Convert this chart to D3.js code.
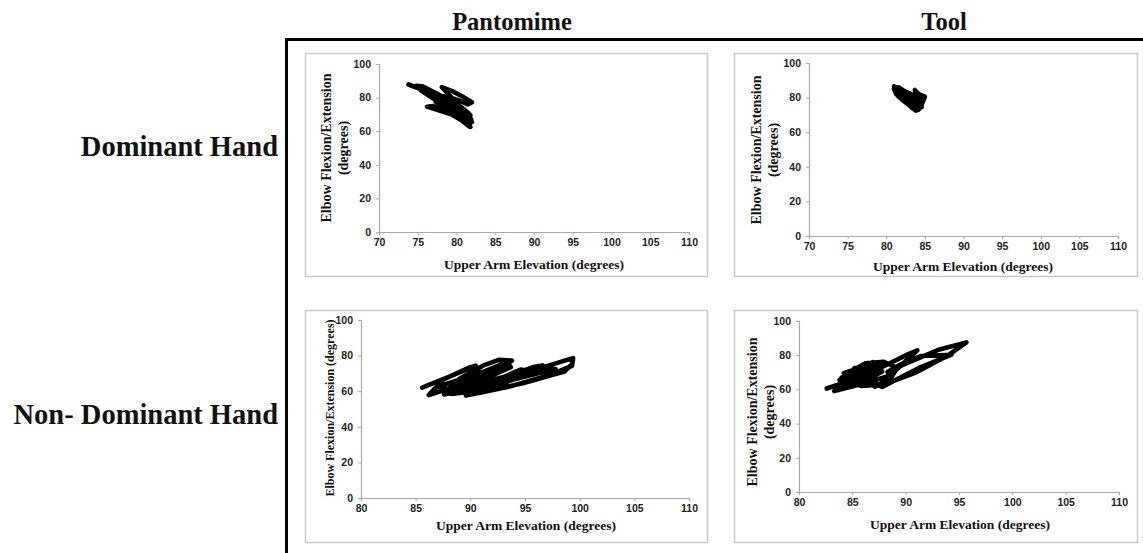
<!DOCTYPE html>
<html>
<head>
<meta charset="utf-8">
<script src="https://cdn.jsdelivr.net/npm/d3@7"></script>
<style>
  html, body { margin: 0; padding: 0; background: #fff; }
  svg { display: block; }
  .serif { font-family: "Liberation Serif", "Times New Roman", serif; font-weight: bold; fill: #111; }
  .tick text { font-family: "Liberation Sans", Arial, sans-serif; font-weight: bold; font-size: 10.5px; fill: #222; }
</style>
</head>
<body>
<svg id="chart" width="1143" height="553"></svg>
<script>
// Column and row headings
const columns = ["Pantomime", "Tool"];
const rows = ["Dominant Hand", "Non- Dominant Hand"];

// Axis settings
const xDomainDominant = [70, 110];
const xDomainNonDominant = [80, 110];
const yDomain = [0, 100];
const xTicksDominant = [70, 75, 80, 85, 90, 95, 100, 105, 110];
const xTicksNonDominant = [80, 85, 90, 95, 100, 105, 110];
const yTicks = [0, 20, 40, 60, 80, 100];
const xTitle = "Upper Arm Elevation (degrees)";
const yTitleLines = ["Elbow Flexion/Extension", "(degrees)"];

// Angle-angle traces: [upper arm elevation, elbow flexion/extension]
const pantomimeDominant = [
  [73.8, 87.8], [76.0, 84.0], [78.5, 79.0], [80.5, 74.0], [81.8, 68.0], [81.6, 63.0],
  [80.8, 66.0], [79.0, 71.0], [77.0, 75.0], [76.2, 74.6], [78.0, 72.0], [80.0, 69.0],
  [81.5, 65.0], [81.8, 62.5], [81.2, 66.0], [79.5, 72.0], [77.5, 78.0], [75.5, 84.0],
  [74.8, 87.0], [75.6, 86.8], [77.2, 83.0], [79.3, 78.0], [81.0, 73.0], [81.9, 67.0],
  [81.3, 69.0], [79.8, 74.0], [78.6, 77.5], [79.6, 76.5], [80.8, 72.5], [81.6, 70.5],
  [80.4, 75.0], [78.1, 86.2], [79.6, 83.5], [81.0, 80.0], [82.0, 77.2], [81.5, 76.0],
  [80.2, 78.5], [78.6, 81.0], [77.6, 80.0], [79.5, 75.0], [81.2, 70.0], [82.0, 65.5],
  [81.4, 64.0], [79.0, 76.0], [80.8, 71.0], [81.7, 66.5], [80.5, 68.5], [78.8, 73.5],
  [77.3, 77.5], [78.5, 74.5], [80.3, 70.5], [81.5, 67.5], [80.0, 72.5], [78.0, 79.5],
  [79.2, 78.5], [80.6, 74.5], [81.8, 69.5], [80.2, 71.5], [78.4, 75.8], [79.4, 74.0],
  [80.9, 69.2], [79.7, 70.2], [78.2, 77.2], [79.1, 80.2]
];
const toolDominant = [
  [81.0, 86.5], [82.0, 84.0], [83.2, 80.0], [84.0, 76.0], [84.2, 73.0], [83.8, 72.5],
  [83.0, 75.5], [82.0, 79.0], [81.3, 82.0], [81.0, 85.0], [81.6, 86.0], [82.6, 83.0],
  [83.6, 79.0], [84.3, 75.5], [84.5, 77.0], [84.0, 80.0], [83.0, 82.5], [82.0, 84.5],
  [81.4, 83.0], [82.2, 80.0], [83.3, 77.0], [84.1, 74.0], [84.6, 76.0], [85.0, 80.5],
  [84.2, 82.0], [83.7, 84.4], [83.9, 81.0], [84.4, 78.0], [83.5, 76.0], [82.5, 78.0],
  [81.6, 80.5], [81.2, 84.0], [82.4, 82.2], [83.4, 79.5], [84.3, 76.6], [84.6, 74.5],
  [81.5, 85.5], [82.8, 81.5], [83.8, 77.5], [84.2, 74.5], [83.4, 73.8], [82.6, 77.0],
  [81.8, 80.0], [82.3, 83.6], [83.2, 81.8], [84.0, 78.8], [84.7, 78.3], [83.9, 82.8]
];
const pantomimeNonDominant = [
  [85.6, 62.0], [88.2, 68.5], [90.5, 74.3], [89.8, 73.0], [87.5, 66.5], [86.2, 57.8],
  [89.0, 63.5], [92.3, 70.5], [93.8, 77.2], [92.6, 77.6], [91.2, 74.5], [89.0, 67.0],
  [87.6, 58.2], [91.5, 63.5], [95.5, 69.5], [96.6, 74.5], [95.8, 73.6], [93.0, 67.5],
  [89.6, 57.6], [93.5, 62.5], [97.0, 68.5], [99.3, 74.2], [99.4, 78.6], [97.2, 74.5],
  [94.6, 69.5], [91.3, 60.8], [88.3, 58.5], [90.7, 65.2], [93.7, 73.5], [93.3, 76.2],
  [90.6, 69.5], [87.0, 62.5], [88.4, 60.6], [91.8, 66.0], [95.2, 71.5], [94.6, 72.2],
  [91.8, 64.5], [89.9, 59.6], [92.6, 64.8], [96.4, 73.8], [95.0, 70.6], [92.0, 62.8],
  [88.8, 62.0], [92.5, 71.5], [91.0, 70.8], [88.0, 61.5], [90.6, 61.3], [94.2, 67.0],
  [97.8, 72.5], [96.8, 73.3], [93.6, 65.8], [90.8, 59.0], [94.8, 64.5], [98.6, 71.0],
  [99.2, 74.6]
];
const toolNonDominant = [
  [82.6, 60.5], [85.0, 65.5], [87.5, 72.0], [88.2, 75.0], [86.5, 70.0], [84.3, 64.0],
  [83.3, 59.0], [85.8, 63.0], [88.5, 68.0], [91.1, 82.8], [90.2, 80.5], [87.6, 72.5],
  [85.0, 66.8], [84.2, 69.5], [86.6, 74.5], [87.8, 73.4], [85.8, 62.0], [88.0, 63.0],
  [91.0, 70.0], [94.0, 80.0], [95.7, 87.5], [93.0, 83.0], [90.0, 75.0], [88.3, 70.2],
  [89.6, 74.8], [91.4, 79.5], [94.3, 80.3], [91.2, 72.4], [87.8, 61.5], [86.3, 66.0],
  [84.8, 68.5], [84.0, 67.0], [86.3, 71.0], [87.2, 75.4], [85.4, 70.0], [83.6, 61.8],
  [85.5, 62.4], [87.0, 67.8], [86.0, 72.8], [84.6, 66.5], [86.8, 69.5], [85.2, 72.5],
  [84.5, 63.5], [86.7, 68.8], [87.8, 70.5], [86.2, 65.0], [84.4, 62.8], [85.8, 67.0],
  [87.4, 71.8], [86.4, 73.5], [84.7, 69.8], [83.8, 65.5], [85.6, 64.3], [87.2, 64.8],
  [86.5, 62.2], [85.3, 68.4], [86.9, 76.0], [87.6, 74.2], [85.9, 69.2], [84.2, 67.8],
  [85.1, 71.4], [86.2, 75.2], [87.9, 76.2], [89.2, 72.6], [88.6, 66.4], [87.1, 61.6]
];

// Panel layout (pixel boxes and plot areas)
const panels = [
  { data: pantomimeDominant, xDomain: xDomainDominant, xTicks: xTicksDominant,
    box: [305, 53, 707, 276], plot: [379, 689, 232, 64],
    xTitlePos: [534, 269], yTitlePos: [327, 148], yTitleOneLine: false },
  { data: toolDominant, xDomain: xDomainDominant, xTicks: xTicksDominant,
    box: [734, 53, 1137, 276], plot: [809, 1118, 236, 63],
    xTitlePos: [963, 271], yTitlePos: [757, 150], yTitleOneLine: false },
  { data: pantomimeNonDominant, xDomain: xDomainNonDominant, xTicks: xTicksNonDominant,
    box: [305, 310, 707, 542], plot: [361, 689, 498, 320],
    xTitlePos: [526, 530], yTitlePos: [330, 408], yTitleOneLine: true },
  { data: toolNonDominant, xDomain: xDomainNonDominant, xTicks: xTicksNonDominant,
    box: [734, 310, 1137, 542], plot: [799, 1119, 492, 321],
    xTitlePos: [960, 529], yTitlePos: [753, 412], yTitleOneLine: false }
];

const svg = d3.select("#chart");

// Outer frame (left and top edges)
svg.append("path")
  .attr("d", "M286.5,553 L286.5,39.5 L1143,39.5")
  .attr("fill", "none").attr("stroke", "#000").attr("stroke-width", 3);

// Column headings
const colX = [512, 944];
svg.selectAll("text.col").data(columns).join("text")
  .attr("class", "serif col")
  .attr("x", (d, i) => colX[i]).attr("y", 30)
  .attr("text-anchor", "middle")
  .style("font-size", "24.5px")
  .text(d => d);

// Row headings
const rowY = [156, 424];
svg.selectAll("text.row").data(rows).join("text")
  .attr("class", "serif row")
  .attr("x", 278).attr("y", (d, i) => rowY[i])
  .attr("text-anchor", "end")
  .style("font-size", "28.5px")
  .text(d => d);

panels.forEach(p => {
  const [bx0, by0, bx1, by1] = p.box;
  svg.append("rect")
    .attr("x", bx0 + 0.5).attr("y", by0 + 0.5)
    .attr("width", bx1 - bx0).attr("height", by1 - by0)
    .attr("fill", "#fff").attr("stroke", "#c9c9c9").attr("stroke-width", 1.5);

  const [px0, px1, py0, py1] = p.plot;
  const x = d3.scaleLinear().domain(p.xDomain).range([px0, px1]);
  const y = d3.scaleLinear().domain(yDomain).range([py0, py1]);

  const gx = svg.append("g").attr("transform", `translate(0,${py0})`)
    .call(d3.axisBottom(x).tickValues(p.xTicks).tickSize(3).tickPadding(4).tickFormat(d3.format("d")));
  const gy = svg.append("g").attr("transform", `translate(${px0},0)`)
    .call(d3.axisLeft(y).tickValues(yTicks).tickSize(3).tickPadding(5).tickFormat(d3.format("d")));
  [gx, gy].forEach(g => {
    g.select(".domain").attr("stroke", "#a8a8a8").attr("stroke-width", 1.2);
    g.selectAll(".tick line").attr("stroke", "#a8a8a8");
  });

  // Trace
  const line = d3.line().x(d => x(d[0])).y(d => y(d[1]));
  svg.append("path")
    .datum(p.data)
    .attr("d", line)
    .attr("fill", "none")
    .attr("stroke", "#000")
    .attr("stroke-width", 4.6)
    .attr("stroke-linejoin", "round")
    .attr("stroke-linecap", "round");

  // Axis titles
  svg.append("text").attr("class", "serif")
    .attr("x", p.xTitlePos[0]).attr("y", p.xTitlePos[1])
    .attr("text-anchor", "middle")
    .style("font-size", "13.5px")
    .text(xTitle);

  const yt = svg.append("text").attr("class", "serif")
    .attr("transform", `translate(${p.yTitlePos[0]},${p.yTitlePos[1]}) rotate(-90)`)
    .attr("text-anchor", "middle");
  if (p.yTitleOneLine) {
    yt.style("font-size", "12px").attr("y", 4).text(yTitleLines.join(" "));
  } else {
    yt.style("font-size", "14px");
    yTitleLines.forEach((t, i) => {
      yt.append("tspan").attr("x", 0).attr("y", 4 + i * 16.5).text(t);
    });
  }
});
</script>
</body>
</html>
